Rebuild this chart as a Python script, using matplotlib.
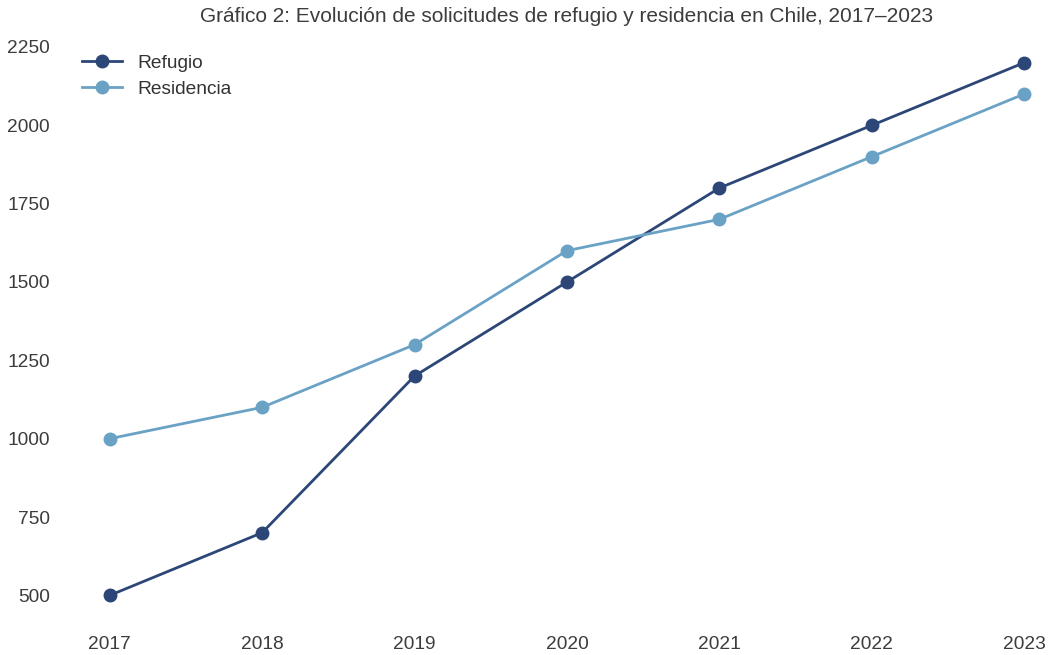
import matplotlib.pyplot as plt

years = [2017, 2018, 2019, 2020, 2021, 2022, 2023]
refugio = [500, 700, 1200, 1500, 1800, 2000, 2200]
residencia = [1000, 1100, 1300, 1600, 1700, 1900, 2100]

plt.rcParams['font.family'] = ['Liberation Sans', 'DejaVu Sans']

fig = plt.figure(figsize=(10.48, 6.55), dpi=100)
ax = fig.add_axes([64 / 1048, 33 / 655, 1006 / 1048, 586 / 655])

ax.plot(years, refugio, marker='o', color='#2c4677', linewidth=2, markersize=9, label='Refugio')
ax.plot(years, residencia, marker='o', color='#6aa2c6', linewidth=2, markersize=9, label='Residencia')

ax.set_xticks(years)
ax.set_yticks([500, 750, 1000, 1250, 1500, 1750, 2000, 2250])
ax.tick_params(length=0, labelsize=13.8, labelcolor='#3c3c3c', pad=10)
for s in ax.spines.values():
    s.set_visible(False)

ax.set_title('Gráfico 2: Evolución de solicitudes de refugio y residencia en Chile, 2017–2023',
             fontsize=15, color='#3c3c3c', pad=10)
leg = ax.legend(loc='upper left', frameon=False, fontsize=13.8, handlelength=2.1,
                borderaxespad=0.55, labelspacing=0.45)
for t in leg.get_texts():
    t.set_color('#333333')

fig.savefig('out.png', dpi=100)
